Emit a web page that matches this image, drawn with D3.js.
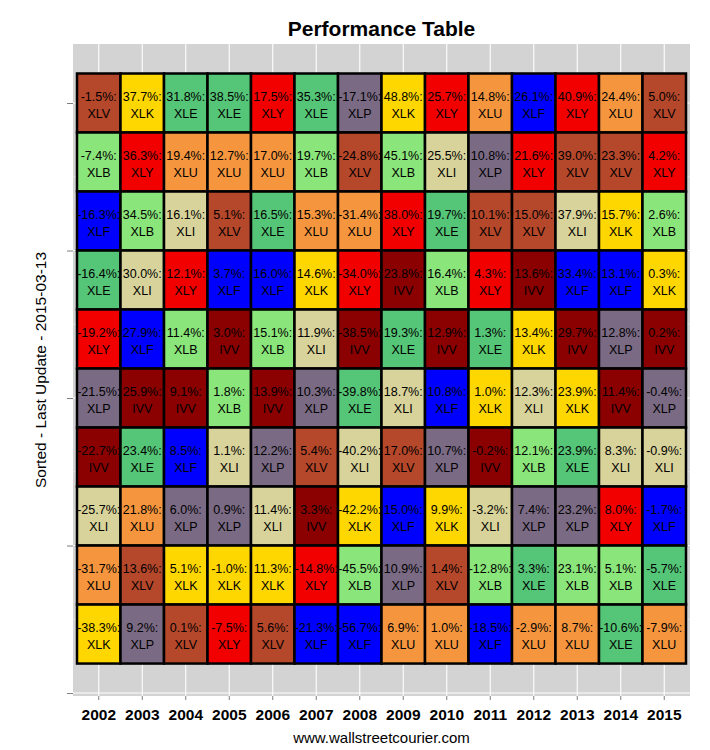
<!DOCTYPE html>
<html>
<head>
<meta charset="utf-8">
<script src="https://cdn.jsdelivr.net/npm/d3@7"></script>
<style>
  body { margin: 0; background: #fff; }
  text { font-family: Arial, "Liberation Sans", sans-serif; }
</style>
</head>
<body>
<div id="chart"></div>
<script>
/* Sector performance table, sorted best to worst per year */

const years = [2002, 2003, 2004, 2005, 2006, 2007, 2008, 2009, 2010, 2011, 2012, 2013, 2014, 2015];

// one row per rank (1 = best), one entry per year
const returns = [
  [-1.5, 37.7, 31.8, 38.5, 17.5, 35.3, -17.1, 48.8, 25.7, 14.8, 26.1, 40.9, 24.4, 5.0],
  [-7.4, 36.3, 19.4, 12.7, 17.0, 19.7, -24.8, 45.1, 25.5, 10.8, 21.6, 39.0, 23.3, 4.2],
  [-16.3, 34.5, 16.1, 5.1, 16.5, 15.3, -31.4, 38.0, 19.7, 10.1, 15.0, 37.9, 15.7, 2.6],
  [-16.4, 30.0, 12.1, 3.7, 16.0, 14.6, -34.0, 23.8, 16.4, 4.3, 13.6, 33.4, 13.1, 0.3],
  [-19.2, 27.9, 11.4, 3.0, 15.1, 11.9, -38.5, 19.3, 12.9, 1.3, 13.4, 29.7, 12.8, 0.2],
  [-21.5, 25.9, 9.1, 1.8, 13.9, 10.3, -39.8, 18.7, 10.8, 1.0, 12.3, 23.9, 11.4, -0.4],
  [-22.7, 23.4, 8.5, 1.1, 12.2, 5.4, -40.2, 17.0, 10.7, -0.2, 12.1, 23.9, 8.3, -0.9],
  [-25.7, 21.8, 6.0, 0.9, 11.4, 3.3, -42.2, 15.0, 9.9, -3.2, 7.4, 23.2, 8.0, -1.7],
  [-31.7, 13.6, 5.1, -1.0, 11.3, -14.8, -45.5, 10.9, 1.4, -12.8, 3.3, 23.1, 5.1, -5.7],
  [-38.3, 9.2, 0.1, -7.5, 5.6, -21.3, -56.7, 6.9, 1.0, -18.5, -2.9, 8.7, -10.6, -7.9]
];

const tickers = [
  ['XLV', 'XLK', 'XLE', 'XLE', 'XLY', 'XLE', 'XLP', 'XLK', 'XLY', 'XLU', 'XLF', 'XLY', 'XLU', 'XLV'],
  ['XLB', 'XLY', 'XLU', 'XLU', 'XLU', 'XLB', 'XLV', 'XLB', 'XLI', 'XLP', 'XLY', 'XLV', 'XLV', 'XLY'],
  ['XLF', 'XLB', 'XLI', 'XLV', 'XLE', 'XLU', 'XLU', 'XLY', 'XLE', 'XLV', 'XLV', 'XLI', 'XLK', 'XLB'],
  ['XLE', 'XLI', 'XLY', 'XLF', 'XLF', 'XLK', 'XLY', 'IVV', 'XLB', 'XLY', 'IVV', 'XLF', 'XLF', 'XLK'],
  ['XLY', 'XLF', 'XLB', 'IVV', 'XLB', 'XLI', 'IVV', 'XLE', 'IVV', 'XLE', 'XLK', 'IVV', 'XLP', 'IVV'],
  ['XLP', 'IVV', 'IVV', 'XLB', 'IVV', 'XLP', 'XLE', 'XLI', 'XLF', 'XLK', 'XLI', 'XLK', 'IVV', 'XLP'],
  ['IVV', 'XLE', 'XLF', 'XLI', 'XLP', 'XLV', 'XLI', 'XLV', 'XLP', 'IVV', 'XLB', 'XLE', 'XLI', 'XLI'],
  ['XLI', 'XLU', 'XLP', 'XLP', 'XLI', 'IVV', 'XLK', 'XLF', 'XLK', 'XLI', 'XLP', 'XLP', 'XLY', 'XLF'],
  ['XLU', 'XLV', 'XLK', 'XLK', 'XLK', 'XLY', 'XLB', 'XLP', 'XLV', 'XLB', 'XLE', 'XLB', 'XLB', 'XLE'],
  ['XLK', 'XLP', 'XLV', 'XLY', 'XLV', 'XLF', 'XLF', 'XLU', 'XLU', 'XLF', 'XLU', 'XLU', 'XLE', 'XLU']
];

const sectors = ['XLV', 'XLK', 'XLE', 'XLY', 'XLP', 'XLB', 'XLU', 'XLF', 'XLI', 'IVV'];

const config = {
  WIDTH: 710,
  HEIGHT: 750,
  PANEL: { left: 73, right: 690, top: 44, bottom: 696 },
  GRID: { left: 77, right: 686 },
  COLOURS: ['#b5472b', '#ffd700', '#55c577', '#f20000', '#7a6a84', '#8ae57a', '#f5963f', '#0000ff', '#d8d39a', '#8b0000']
};

const colour = d3.scaleOrdinal().domain(sectors).range(config.COLOURS);

// flatten into cells
const cells = [];
returns.forEach((row, r) => {
  row.forEach((v, i) => {
    cells.push({ year: years[i], rank: r + 1, value: v, ticker: tickers[r][i] });
  });
});

const svg = d3.select('#chart').append('svg')
  .attr('width', config.WIDTH)
  .attr('height', config.HEIGHT);

const P = config.PANEL;

const x = d3.scaleBand()
  .domain(years)
  .range([config.GRID.left, config.GRID.right])
  .padding(0);

// rank axis, continuous like the original
const y = d3.scaleLinear()
  .domain([0, 11.05])
  .range([P.top, P.bottom]);

const majorY = [1, 3.5, 6, 8.5, 11];
const minorY = [2.25, 4.75, 7.25, 9.75];

// panel background
svg.append('rect')
  .attr('x', P.left).attr('y', P.top)
  .attr('width', P.right - P.left).attr('height', P.bottom - P.top)
  .attr('fill', '#d3d3d3');

// grid
svg.append('g').selectAll('line.minor')
  .data(minorY).enter().append('line')
  .attr('x1', P.left).attr('x2', P.right)
  .attr('y1', d => y(d)).attr('y2', d => y(d))
  .attr('stroke', '#f2f2f2').attr('stroke-width', 0.6);

svg.append('g').selectAll('line.major')
  .data(majorY).enter().append('line')
  .attr('x1', P.left).attr('x2', P.right)
  .attr('y1', d => y(d)).attr('y2', d => y(d))
  .attr('stroke', '#fff').attr('stroke-width', 1.1);

svg.append('g').selectAll('line.vx')
  .data(years).enter().append('line')
  .attr('x1', d => x(d) + x.bandwidth() / 2).attr('x2', d => x(d) + x.bandwidth() / 2)
  .attr('y1', P.top).attr('y2', P.bottom)
  .attr('stroke', '#fff').attr('stroke-width', 1.1);

// tiles
const tile = svg.append('g').selectAll('g.cell')
  .data(cells).enter().append('g')
  .attr('class', 'cell');

tile.append('rect')
  .attr('x', d => x(d.year))
  .attr('y', d => y(d.rank - 0.5))
  .attr('width', x.bandwidth())
  .attr('height', y(1) - y(0))
  .attr('fill', d => colour(d.ticker))
  .attr('stroke', '#000')
  .attr('stroke-width', 2.5);

tile.append('text')
  .attr('x', d => x(d.year) + x.bandwidth() / 2)
  .attr('y', d => y(d.rank) - 2)
  .attr('text-anchor', 'middle')
  .attr('font-size', '12.5px')
  .attr('fill', '#000')
  .text(d => d.value.toFixed(1) + '%:');

tile.append('text')
  .attr('x', d => x(d.year) + x.bandwidth() / 2)
  .attr('y', d => y(d.rank) + 14.5)
  .attr('text-anchor', 'middle')
  .attr('font-size', '12.5px')
  .attr('fill', '#000')
  .text(d => d.ticker);

// axes
const yAxis = d3.axisLeft(y).tickValues(majorY).tickFormat('').tickSize(6);
svg.append('g')
  .attr('transform', 'translate(' + P.left + ',0)')
  .call(yAxis)
  .call(g => g.select('.domain').remove())
  .call(g => g.selectAll('.tick line').attr('stroke', '#7f7f7f'));

const xAxis = d3.axisBottom(x).tickSize(4).tickPadding(9);
svg.append('g')
  .attr('transform', 'translate(0,' + P.bottom + ')')
  .call(xAxis)
  .call(g => g.select('.domain').remove())
  .call(g => g.selectAll('.tick line').attr('stroke', '#7f7f7f'))
  .call(g => g.selectAll('.tick text')
    .attr('font-size', '15.5px')
    .attr('font-weight', 'bold')
    .attr('fill', '#000')
    .attr('font-family', 'Arial, "Liberation Sans", sans-serif'));

// titles
svg.append('text')
  .attr('x', (P.left + P.right) / 2)
  .attr('y', 36)
  .attr('text-anchor', 'middle')
  .attr('font-size', '21px')
  .attr('font-weight', 'bold')
  .text('Performance Table');

svg.append('text')
  .attr('transform', 'translate(46,' + (P.top + P.bottom) / 2 + ') rotate(-90)')
  .attr('text-anchor', 'middle')
  .attr('font-size', '15.5px')
  .attr('fill', '#000')
  .text('Sorted - Last Update - 2015-03-13');

svg.append('text')
  .attr('x', (P.left + P.right) / 2)
  .attr('y', 743)
  .attr('text-anchor', 'middle')
  .attr('font-size', '15px')
  .attr('fill', '#000')
  .text('www.wallstreetcourier.com');
</script>
</body>
</html>
